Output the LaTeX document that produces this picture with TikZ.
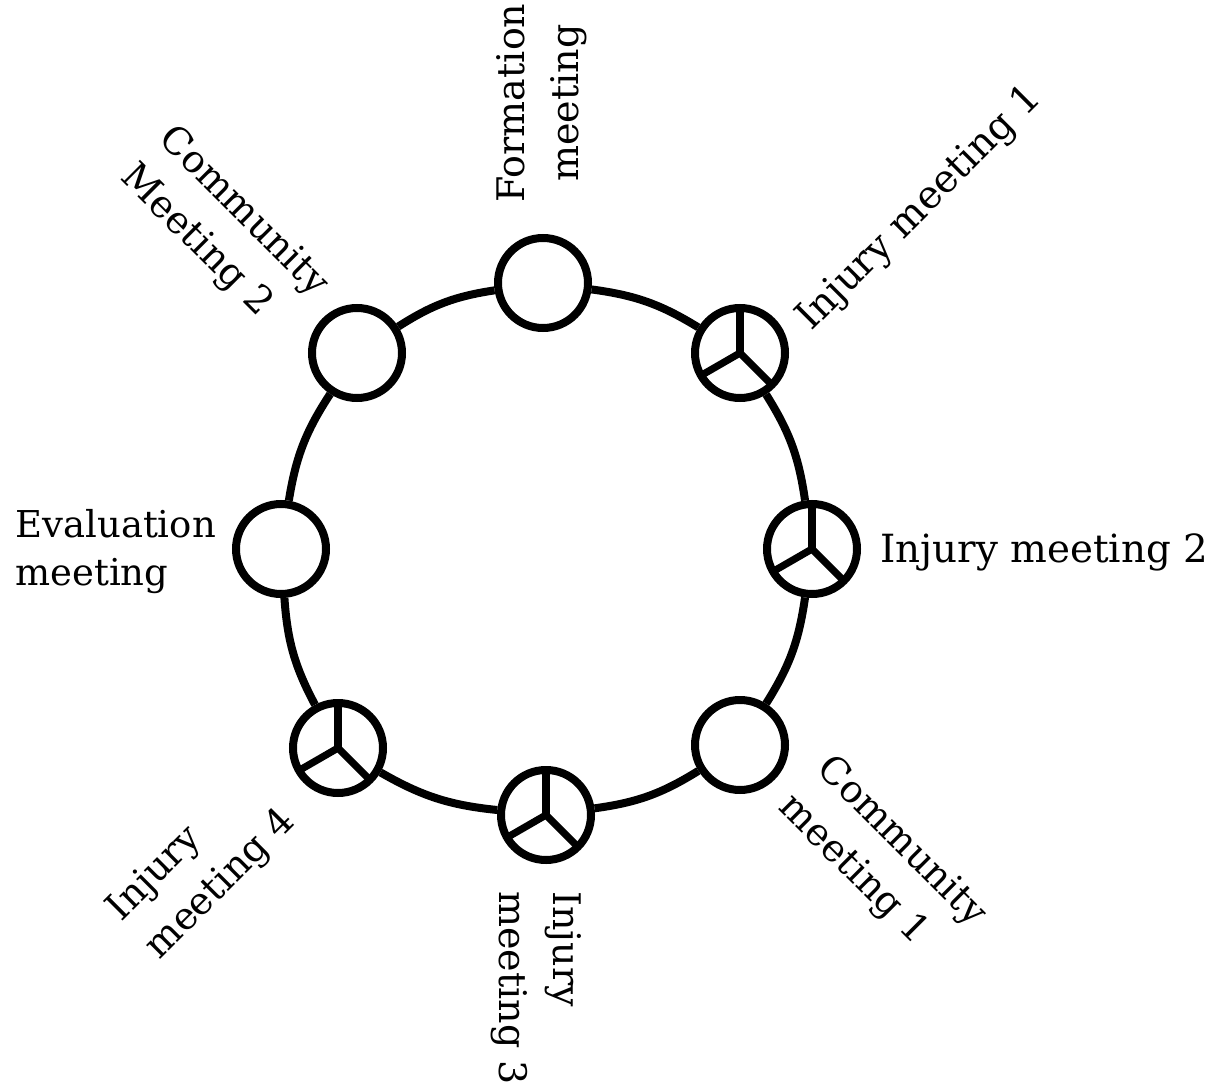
\documentclass[tikz,border=0pt]{standalone}
\usepackage{fontspec}
\setmainfont{DejaVu Serif}
\usetikzlibrary{positioning}

\begin{document}
\begin{tikzpicture}[x=0.5pt, y=-0.5pt,
  meeting/.style={circle, draw, line width=4pt, minimum size=45pt, inner sep=0pt, fill=white},
  injury/.style={meeting, path picture={
      \foreach \a in {90,210,315}
        \draw[line width=3.6pt] (path picture bounding box.center) -- +(\a:30pt);}},
  ring/.style={line width=4pt},
  lbl/.style={inner sep=0pt, align=left, font=\fontsize{19}{27}\selectfont}]

  \useasboundingbox (0,0) rectangle (1215,1091);

  \node[meeting] (fm)  at (543,283) {};
  \node[injury]  (im1) at (740,353) {};
  \node[injury]  (im2) at (812,549) {};
  \node[meeting] (cm1) at (740,745) {};
  \node[injury]  (im3) at (546,815) {};
  \node[injury]  (im4) at (338,748) {};
  \node[meeting] (ev)  at (281,549) {};
  \node[meeting] (cm2) at (357,353) {};

  \foreach \from/\to in {fm/im1, im1/im2, im2/cm1, cm1/im3, im3/im4, im4/ev, ev/cm2, cm2/fm}
    \draw[ring] (\from) to[bend left=12] (\to);

  \node[lbl, align=center, rotate=90] (fm-label) at (542,103) {Formation\\meeting};
  \node[lbl, rotate=45, font=\fontsize{19.4}{27}\selectfont] (im1-label) at (920,209) {Injury meeting 1};
  \node[lbl, anchor=base west, font=\fontsize{19.4}{27}\selectfont] (im2-label) at (880,562) {Injury meeting 2};
  \node[lbl, rotate=-45] (cm1-label) at (882,861) {Community\\meeting 1};
  \node[lbl, rotate=-90, anchor=north west] (im3-label) at (582,891) {Injury\\meeting 3};
  \node[lbl, rotate=45] (im4-label) at (202,866) {Injury\\meeting 4};
  \node[lbl, anchor=west, font=\fontsize{18.5}{24}\selectfont] (ev-label) at (15,552) {Evaluation\\meeting};
  \node[lbl, rotate=-45] (cm2-label) at (224,231) {Community\\Meeting 2};
\end{tikzpicture}
\end{document}
